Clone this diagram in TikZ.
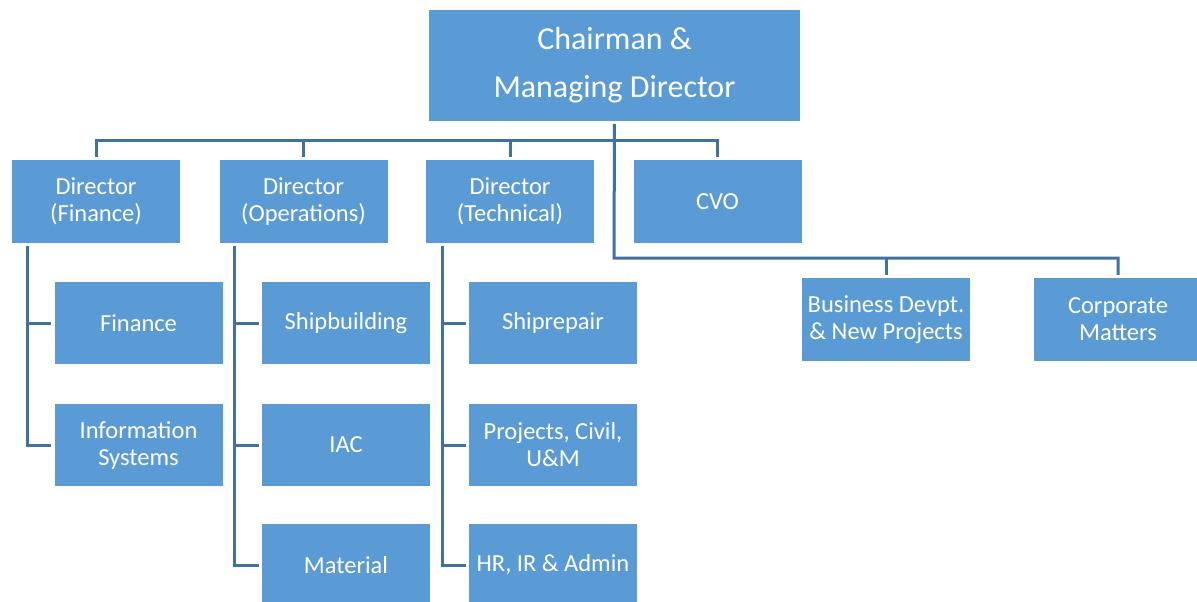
\documentclass[tikz,border=0pt]{standalone}
\usepackage{fontspec}
\setmainfont{Carlito}
\definecolor{boxblue}{HTML}{5B9BD5}
\definecolor{lineblue}{HTML}{41719C}
\begin{document}
\begin{tikzpicture}[x=1pt,y=-1pt,
  orgbox/.style={fill=boxblue, text=white, inner sep=0pt, align=center,
    minimum width=168pt, minimum height=82pt,
    font=\fontsize{24.5}{27}\selectfont},
  topbox/.style={orgbox, minimum width=371pt, minimum height=111pt,
    font=\fontsize{32}{48}\selectfont},
  link/.style={draw=lineblue, line width=3pt},
  gap/.style={shorten <=3pt, shorten >=3pt}
]
\useasboundingbox (0,0) rectangle (1197,602);
% nodes
\node[topbox] (top) at (614.5,65.5) {Chairman \&\\Managing Director};
\node[orgbox, minimum height=83pt] (dirF) at (96,201.5) {Director\\(Finance)};
\node[orgbox, minimum height=83pt] (dirO) at (303.5,201.5) {Director\\(Operations)};
\node[orgbox, minimum height=83pt] (dirT) at (510,201.5) {Director\\(Technical)};
\node[orgbox, minimum height=83pt] (cvo) at (717.5,201.5) {CVO};
\node[orgbox] (fin) at (138.5,323) {Finance};
\node[orgbox] (is) at (138.5,445) {Information\\Systems};
\node[orgbox] (ship) at (346,323) {Shipbuilding};
\node[orgbox] (iac) at (346,445) {IAC};
\node[orgbox] (mat) at (346,565) {Material};
\node[orgbox] (srep) at (553,323) {Shiprepair};
\node[orgbox] (proj) at (553,445) {Projects, Civil,\\U\&M};
\node[orgbox] (hr) at (553,565) {HR, IR \& Admin};
\node[orgbox, minimum height=83pt] (bus) at (886,319.5) {Business Devpt.\\\& New Projects};
\node[orgbox, minimum height=83pt] (corp) at (1118,319.5) {Corporate\\Matters};
% helper coordinates
\coordinate (bar) at (614,140);
\coordinate (rbar) at (614,258);
\coordinate (fx) at (27,0);
\coordinate (ox) at (234,0);
\coordinate (tx) at (442,0);
% top level connectors
\draw[link, gap] (dirF.north) -- (dirF.north |- bar) -- (cvo.north |- bar) -- (cvo.north);
\draw[link, shorten >=3pt] (dirO.north |- bar) -- (dirO.north);
\draw[link, shorten >=3pt] (dirT.north |- bar) -- (dirT.north);
\draw[link, gap] (top.south) -- (rbar) -- (corp.north |- rbar) -- (corp.north);
\draw[link, shorten >=3pt] (bus.north |- rbar) -- (bus.north);
% finance bracket
\draw[link, gap] (fx |- dirF.south) -- (fx |- is.west) -- (is.west);
\draw[link, shorten >=3pt] (fx |- fin.west) -- (fin.west);
% operations bracket
\draw[link, gap] (ox |- dirO.south) -- (ox |- mat.west) -- (mat.west);
\draw[link, shorten >=3pt] (ox |- ship.west) -- (ship.west);
\draw[link, shorten >=3pt] (ox |- iac.west) -- (iac.west);
% technical bracket
\draw[link, gap] (tx |- dirT.south) -- (tx |- hr.west) -- (hr.west);
\draw[link, shorten >=3pt] (tx |- srep.west) -- (srep.west);
\draw[link, shorten >=3pt] (tx |- proj.west) -- (proj.west);
\end{tikzpicture}
\end{document}
